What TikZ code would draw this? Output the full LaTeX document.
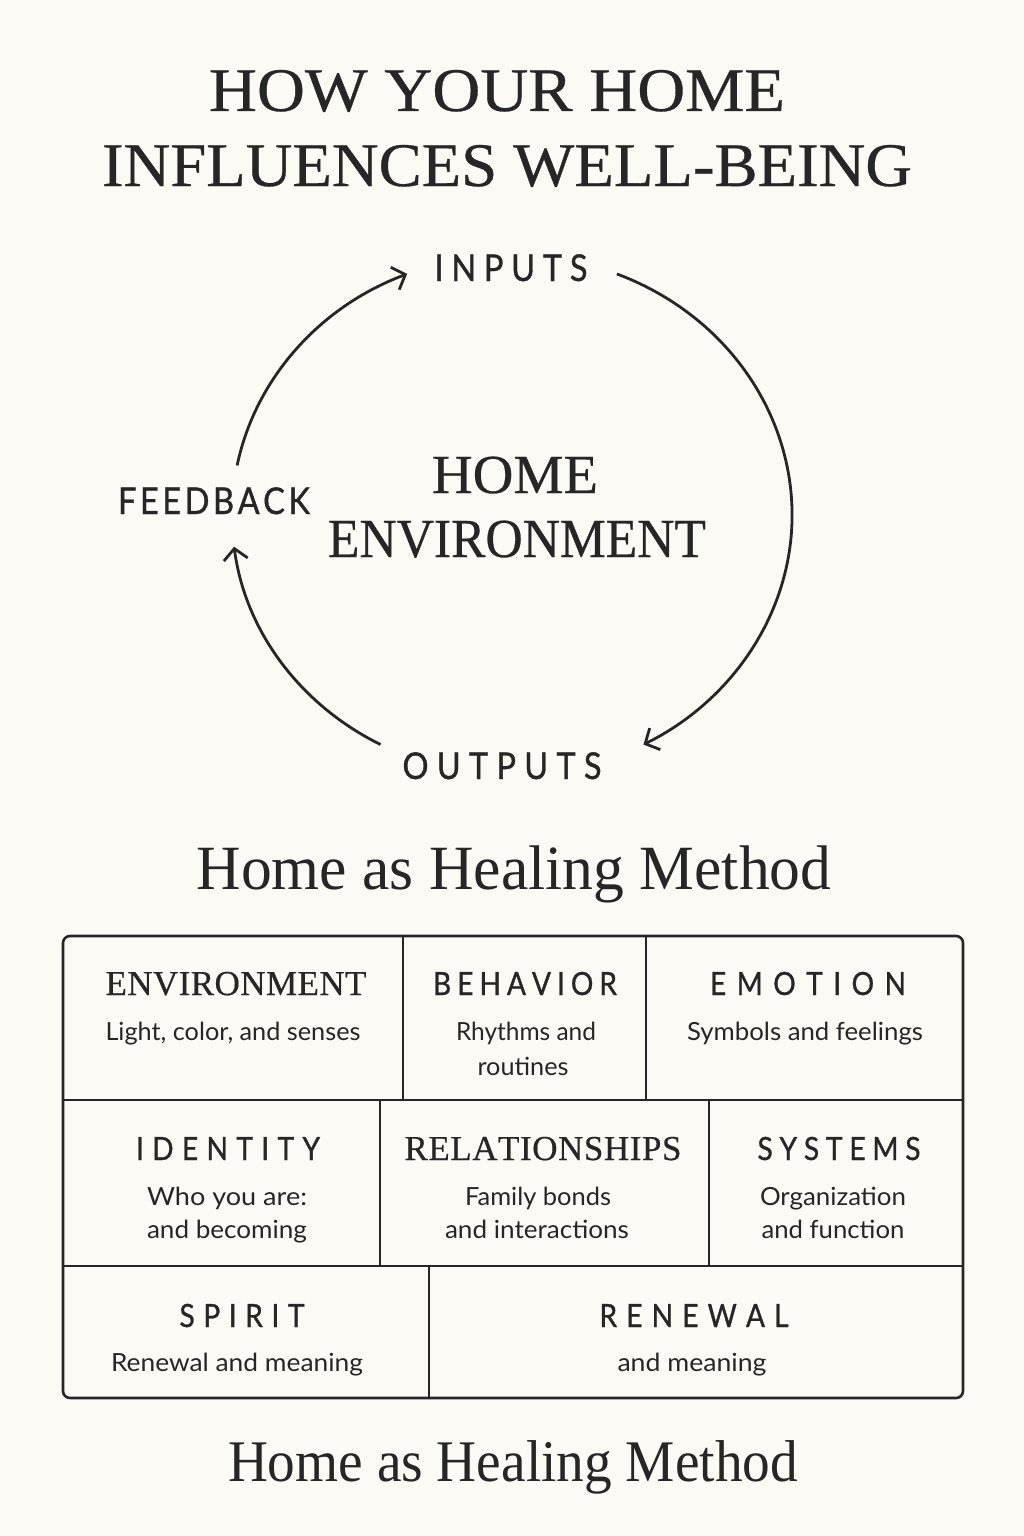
\documentclass[tikz,border=0pt]{standalone}
\usepackage{fontspec}
\usepackage{graphicx}
\setmainfont{Liberation Serif}
\newfontfamily\sansf{Lato}
\newfontfamily\sansb[FakeBold=0.9,FakeStretch=0.88]{Lato}
\newfontfamily\serifb[FakeBold=0.5]{Liberation Serif}
\usetikzlibrary{arrows.meta,calc}
\definecolor{bg}{HTML}{FCFAF5}
\definecolor{ink}{HTML}{262626}
% horizontal fit of a text to a width in pt
\newcommand\fitx[2]{\setbox0\hbox{#2}\pgfmathsetmacro\fitfac{#1/\the\wd0}\scalebox{\fitfac}[1]{\box0}}
% letter-spaced word of a given width
\def\spreadit#1{\spreadA#1\relax}
\def\spreadA#1{#1\spreadB}
\def\spreadB#1{\ifx#1\relax\else\hfill#1\expandafter\spreadB\fi}
\newcommand\spaced[2]{\makebox[#1pt][s]{\spreadit{#2}}}
\tikzset{
  txt/.style={inner sep=0pt, anchor=base, text=ink},
  ttl/.style={txt, font=\serifb\fontsize{62}{70}\selectfont},
  lblf/.style={txt, font=\sansb\fontsize{37}{40}\selectfont},
  homef/.style={txt, font=\serifb\fontsize{55}{60}\selectfont},
  sectf/.style={txt, font=\fontsize{63}{70}\selectfont},
  sectg/.style={txt, font=\fontsize{59}{66}\selectfont},
  hsans/.style={txt, font=\sansb\fontsize{32}{36}\selectfont},
  hserif/.style={txt, font=\serifb\fontsize{35}{38}\selectfont},
  subf/.style={txt, font=\sansf\fontsize{25}{28}\selectfont},
  arr/.style={draw=ink, line width=2.8pt, -{Straight Barb[length=11pt,width=24pt]}},
  gridl/.style={draw=ink, line width=2.6pt},
}
\begin{document}
\begin{tikzpicture}[x=1pt,y=-1pt]
\useasboundingbox (0,0) rectangle (1024,1536);
\fill[bg] (0,0) rectangle (1024,1536);

% title
\node[ttl] (t1) at (497,111) {\fitx{576}{HOW YOUR HOME}};
\node[ttl] (t2) at (507,186) {\fitx{810}{INFLUENCES WELL-BEING}};

% cycle
\node[lblf] (inputs) at (511,281) {\spaced{153}{INPUTS}};
\node[lblf] (feedback) at (214,514) {\spaced{192}{FEEDBACK}};
\node[lblf] (outputs) at (502,779) {\spaced{199}{OUTPUTS}};
\node[homef] (home1) at (515,493) {\fitx{166}{HOME}};
\node[homef] (home2) at (517,557) {\fitx{378}{ENVIRONMENT}};

\coordinate (ctr) at (512,515);
\coordinate (rs) at ($(ctr)+(-68:280 and 260)$);
\coordinate (ts) at ($(ctr)+(-169:280 and 260)$);
\coordinate (bs) at ($(ctr)+(118:280 and 260)$);
\draw[arr] (rs) arc[start angle=-68, end angle=62, x radius=280, y radius=260];
\draw[arr] (ts) arc[start angle=-169, end angle=-112, x radius=280, y radius=260];
\draw[arr] (bs) arc[start angle=118, end angle=173, x radius=280, y radius=260];

% section title
\node[sectf] (sec1) at (514,889) {\fitx{635}{Home as Healing Method}};

% table
\draw[gridl, rounded corners=7pt] (63,936) rectangle (963,1398);
\draw[gridl] (63,1100) -- (963,1100);
\draw[gridl] (63,1266) -- (963,1266);
\draw[gridl] (403,936) -- (403,1100);
\draw[gridl] (646,936) -- (646,1100);
\draw[gridl] (380,1100) -- (380,1266);
\draw[gridl] (709,1100) -- (709,1266);
\draw[gridl] (429,1266) -- (429,1398);

% row 1
\node[hserif] (h11) at (236,995) {\spaced{261}{ENVIRONMENT}};
\node[subf] (s11) at (233,1040) {\fitx{255}{Light, color, and senses}};
\node[hsans] (h12) at (525,995) {\spaced{184}{BEHAVIOR}};
\node[subf] (s12a) at (526,1040) {\fitx{140}{Rhythms and}};
\node[subf] (s12b) at (523,1075) {\fitx{91}{routines}};
\node[hsans] (h13) at (808,995) {\spaced{196}{EMOTION}};
\node[subf] (s13) at (805,1040) {\fitx{236}{Symbols and feelings}};

% row 2
\node[hsans] (h21) at (228,1160) {\spaced{184}{IDENTITY}};
\node[subf] (s21a) at (227,1205) {\fitx{160}{Who you are:}};
\node[subf] (s21b) at (227,1238) {\fitx{160}{and becoming}};
\node[hserif] (h22) at (543,1160) {\spaced{277}{RELATIONSHIPS}};
\node[subf] (s22a) at (538,1205) {\fitx{146}{Family bonds}};
\node[subf] (s22b) at (537,1238) {\fitx{184}{and interactions}};
\node[hsans] (h23) at (839,1160) {\spaced{163}{SYSTEMS}};
\node[subf] (s23a) at (833,1205) {\fitx{146}{Organization}};
\node[subf] (s23b) at (833,1238) {\fitx{143}{and function}};

% row 3
\node[hsans] (h31) at (242,1327) {\spaced{125}{SPIRIT}};
\node[subf] (s31) at (237,1371) {\fitx{252}{Renewal and meaning}};
\node[hsans] (h32) at (694,1327) {\spaced{189}{RENEWAL}};
\node[subf] (s32) at (692,1371) {\fitx{149}{and meaning}};

% bottom title
\node[sectg] (sec2) at (513,1481) {\fitx{570}{Home as Healing Method}};
\end{tikzpicture}
\end{document}
